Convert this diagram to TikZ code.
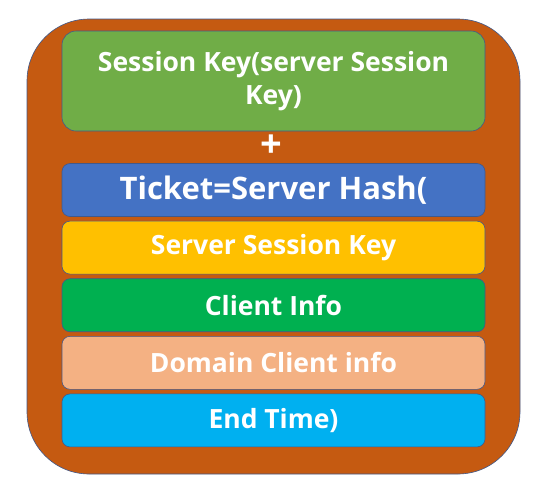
\documentclass[tikz,border=0pt]{standalone}
\usepackage{fontspec}
\setmainfont{Open Sans}
\usetikzlibrary{positioning}
\definecolor{frameorange}{HTML}{C55A11}
\definecolor{edgeblue}{HTML}{41598B}
\definecolor{keygreen}{HTML}{70AD47}
\definecolor{ticketblue}{HTML}{4472C4}
\definecolor{keyyellow}{HTML}{FFC000}
\definecolor{infogreen}{HTML}{00B050}
\definecolor{domainpeach}{HTML}{F4B183}
\definecolor{timecyan}{HTML}{00B0F0}

\begin{document}
\begin{tikzpicture}[x=1pt,y=1pt,line width=.6pt] % ticket layout
\tikzstyle{field}=[draw=edgeblue,rounded corners=8pt,minimum width=423pt,minimum height=53pt,inner sep=0pt,text=white,font=\bfseries\fontsize{26.5}{30}\selectfont]

\useasboundingbox (0,0) rectangle (560,-483);
\draw[draw=edgeblue,fill=frameorange,rounded corners=62pt] (27,-19) rectangle (520,-474); % outer frame

\node[field,fill=keygreen,minimum height=100pt,rounded corners=14pt,align=center,font=\bfseries\fontsize{26.5}{33}\selectfont] (skey) at (273.5,-81) {Session Key(server Session\\Key)}; % session key
\node[text=white,font=\bfseries\fontsize{38}{38}\selectfont,inner sep=0pt] (plus) at (271,-146) {+}; % plus

\node[field,fill=ticketblue,font=\bfseries\fontsize{31}{36}\selectfont] (ticket) at (273.5,-190) {Ticket=Server Hash(}; % ticket
\node[field,fill=keyyellow,below=4pt of ticket] (sskey) {Server Session Key}; % server session key
\node[field,fill=infogreen,below=4pt of sskey] (cinfo) {Client Info}; % client info
\node[field,fill=domainpeach,below=4pt of cinfo] (dinfo) {Domain Client info}; % domain client info
\node[field,fill=timecyan,below=4pt of dinfo] (etime) {End Time)}; % end time
\end{tikzpicture}
\end{document}
